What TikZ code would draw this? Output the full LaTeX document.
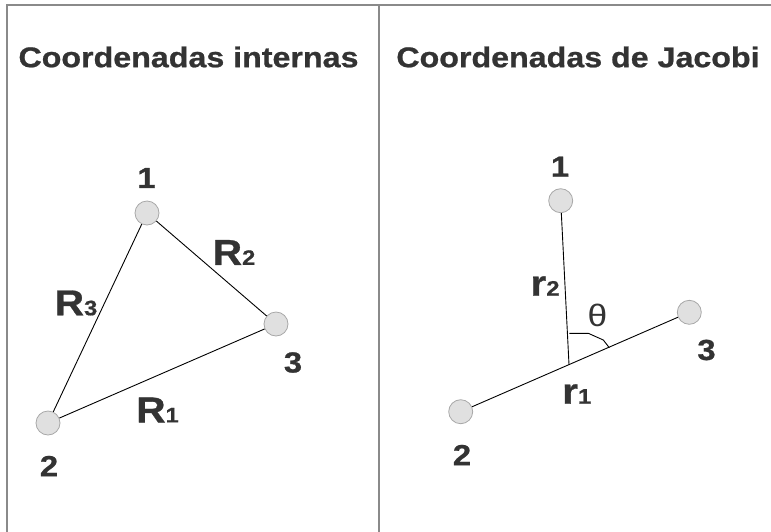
\documentclass[tikz,border=0pt]{standalone}
\usepackage{fontspec}
\setmainfont{Liberation Sans}
\newfontfamily\labfont{Liberation Sans}[FakeStretch=1.14]
\newfontfamily\labfontb{Liberation Sans Bold}[FakeStretch=1.13, FakeBold=0.8]
\definecolor{txt}{HTML}{333333}
\definecolor{frame}{HTML}{8A8A8A}
\definecolor{ballfill}{HTML}{E0E0E0}
\definecolor{ballline}{HTML}{A8A8A8}
\tikzset{
  ball/.style={circle, draw=ballline, fill=ballfill, line width=0.8pt, minimum size=24pt, inner sep=0pt},
  edge/.style={draw=black, line width=0.9pt},
  framel/.style={draw=frame, line width=1.8pt},
  title/.style={text=txt, font=\labfontb\fontsize{28.5}{30}\selectfont, inner sep=0pt},
  num/.style={text=txt, font=\labfontb\fontsize{29}{30}\selectfont, inner sep=0pt},
  big/.style={text=txt, font=\labfontb\fontsize{36}{38}\selectfont, inner sep=0pt},
  greek/.style={text=txt, font=\labfont\fontsize{31}{33}\selectfont, inner sep=0pt}
}
\newcommand{\subsc}[1]{{\fontsize{21}{22}\selectfont #1}}
\begin{document}
\begin{tikzpicture}[x=1pt,y=-1pt]
\useasboundingbox (0,0) rectangle (771,531);
% frame
\coordinate (tl) at (7,5);
\coordinate (tr) at (772,5);
\coordinate (bl) at (7,532);
\coordinate (dt) at (379,5);
\coordinate (db) at (379,532);
\draw[framel] (bl) -- (tl) -- (tr);
\draw[framel] (dt) -- (db);
% titles
\node[title] (t1) at (188.5,57) {Coordenadas internas};
\node[title] (t2) at (578,57) {Coordenadas de Jacobi};
% left: internal coordinates
\node[ball] (a1) at (147,213) {};
\node[ball] (a3) at (276,324) {};
\node[ball] (a2) at (48,423) {};
\draw[edge] (a1) -- (a3);
\draw[edge] (a3) -- (a2);
\draw[edge] (a2) -- (a1);
\node[num] (la1) at (146.5,178) {1};
\node[num] (la3) at (293,362.5) {3};
\node[num] (la2) at (49,466) {2};
\node[big] (R2) at (234,252.5) {R\subsc{2}};
\node[big] (R3) at (76,303) {R\subsc{3}};
\node[big] (R1) at (157.5,410) {R\subsc{1}};
% right: Jacobi coordinates
\node[ball] (b1) at (560.7,200.7) {};
\node[ball] (b3) at (689.3,312.3) {};
\node[ball] (b2) at (460.7,411.7) {};
\coordinate (F) at (569,364.6);
\draw[edge] (b2) -- (b3);
\draw[edge] (b1) -- (F);
\draw[black, line width=0.9pt, line join=round] (569.3,333.3) -- (588.3,333.3) -- (603.3,340) -- (609.3,347.7);
\node[num] (lb1) at (560,166.7) {1};
\node[num] (lb3) at (706.5,350) {3};
\node[num] (lb2) at (462,455) {2};
\node[big] (r2) at (545,286) {r\subsc{2}};
\node[big] (r1) at (576.7,394) {r\subsc{1}};
\node[greek] (th) at (597.5,315) {θ};
\end{tikzpicture}
\end{document}
